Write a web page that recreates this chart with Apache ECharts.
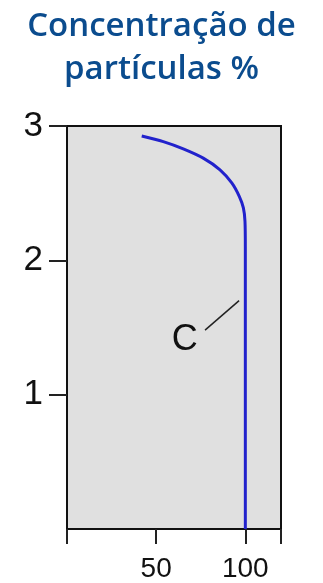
<!DOCTYPE html>
<html>
<head>
<meta charset="utf-8">
<script src="https://cdn.jsdelivr.net/npm/echarts@6/dist/echarts.min.js"></script>
<style>
  html, body { margin: 0; padding: 0; background: #fff; }
  #chart { width: 323px; height: 583px; }
</style>
</head>
<body>
<div id="chart"></div>
<script>
// concentração (%) vs altura
const curveX = [41.9, 54.0, 65.2, 76.4, 85.8, 92.4, 96.6, 98.9, 99.8, 100, 100];
const curveY = [2.926, 2.884, 2.83, 2.761, 2.674, 2.576, 2.476, 2.39, 2.291, 2.1, 0];

const xTicks = [0, 50, 100, 120];
const xLabels = [50, 100];
const yTicks = [1, 2, 3];

// rótulo "C" e linha de chamada
const labelText = 'C';
const labelPos = [66, 1.41];
const leaderX = [77.4, 96.5];
const leaderY = [1.48, 1.70];

const chart = echarts.init(document.getElementById('chart'));

const option = {
  animation: false,
  title: {
    text: 'Concentração de\npartículas %',
    left: 'center',
    top: 0,
    textStyle: {
      fontFamily: 'Open Sans',
      fontWeight: 600,
      fontSize: 33,
      lineHeight: 43,
      color: '#0b4c8e'
    }
  },
  grid: {
    left: 67,
    right: 42,
    top: 126,
    bottom: 51,
    show: true,
    backgroundColor: '#e0e0e0',
    borderColor: '#111',
    borderWidth: 2
  },
  xAxis: {
    type: 'value',
    min: 0,
    max: 120,
    splitLine: { show: false },
    axisLine: { lineStyle: { color: '#111', width: 2 } },
    axisTick: {
      length: 15,
      customValues: xTicks,
      lineStyle: { color: '#222', width: 2 }
    },
    axisLabel: {
      customValues: xLabels,
      margin: 26,
      fontFamily: 'Liberation Sans',
      fontSize: 28,
      color: '#111'
    }
  },
  yAxis: {
    type: 'value',
    min: 0,
    max: 3,
    interval: 1,
    splitLine: { show: false },
    axisLine: { lineStyle: { color: '#111', width: 2 } },
    axisTick: {
      length: 18,
      customValues: yTicks,
      lineStyle: { color: '#222', width: 2 }
    },
    axisLabel: {
      customValues: yTicks,
      margin: 24,
      fontFamily: 'Liberation Sans',
      fontSize: 35,
      color: '#111'
    }
  },
  series: [
    {
      type: 'line',
      data: curveX.map((x, i) => [x, curveY[i]]),
      smooth: 0.3,
      showSymbol: false,
      lineStyle: { color: '#2222cc', width: 3 }
    },
    {
      type: 'line',
      data: leaderX.map((x, i) => [x, leaderY[i]]),
      showSymbol: false,
      lineStyle: { color: '#222', width: 1.5 }
    },
    {
      type: 'scatter',
      symbolSize: 0,
      itemStyle: { opacity: 1 },
      data: [labelPos],
      label: {
        show: true,
        position: 'inside',
        formatter: labelText,
        fontFamily: 'Liberation Sans',
        fontSize: 36,
        color: '#111'
      }
    }
  ]
};

chart.setOption(option);
</script>
</body>
</html>
